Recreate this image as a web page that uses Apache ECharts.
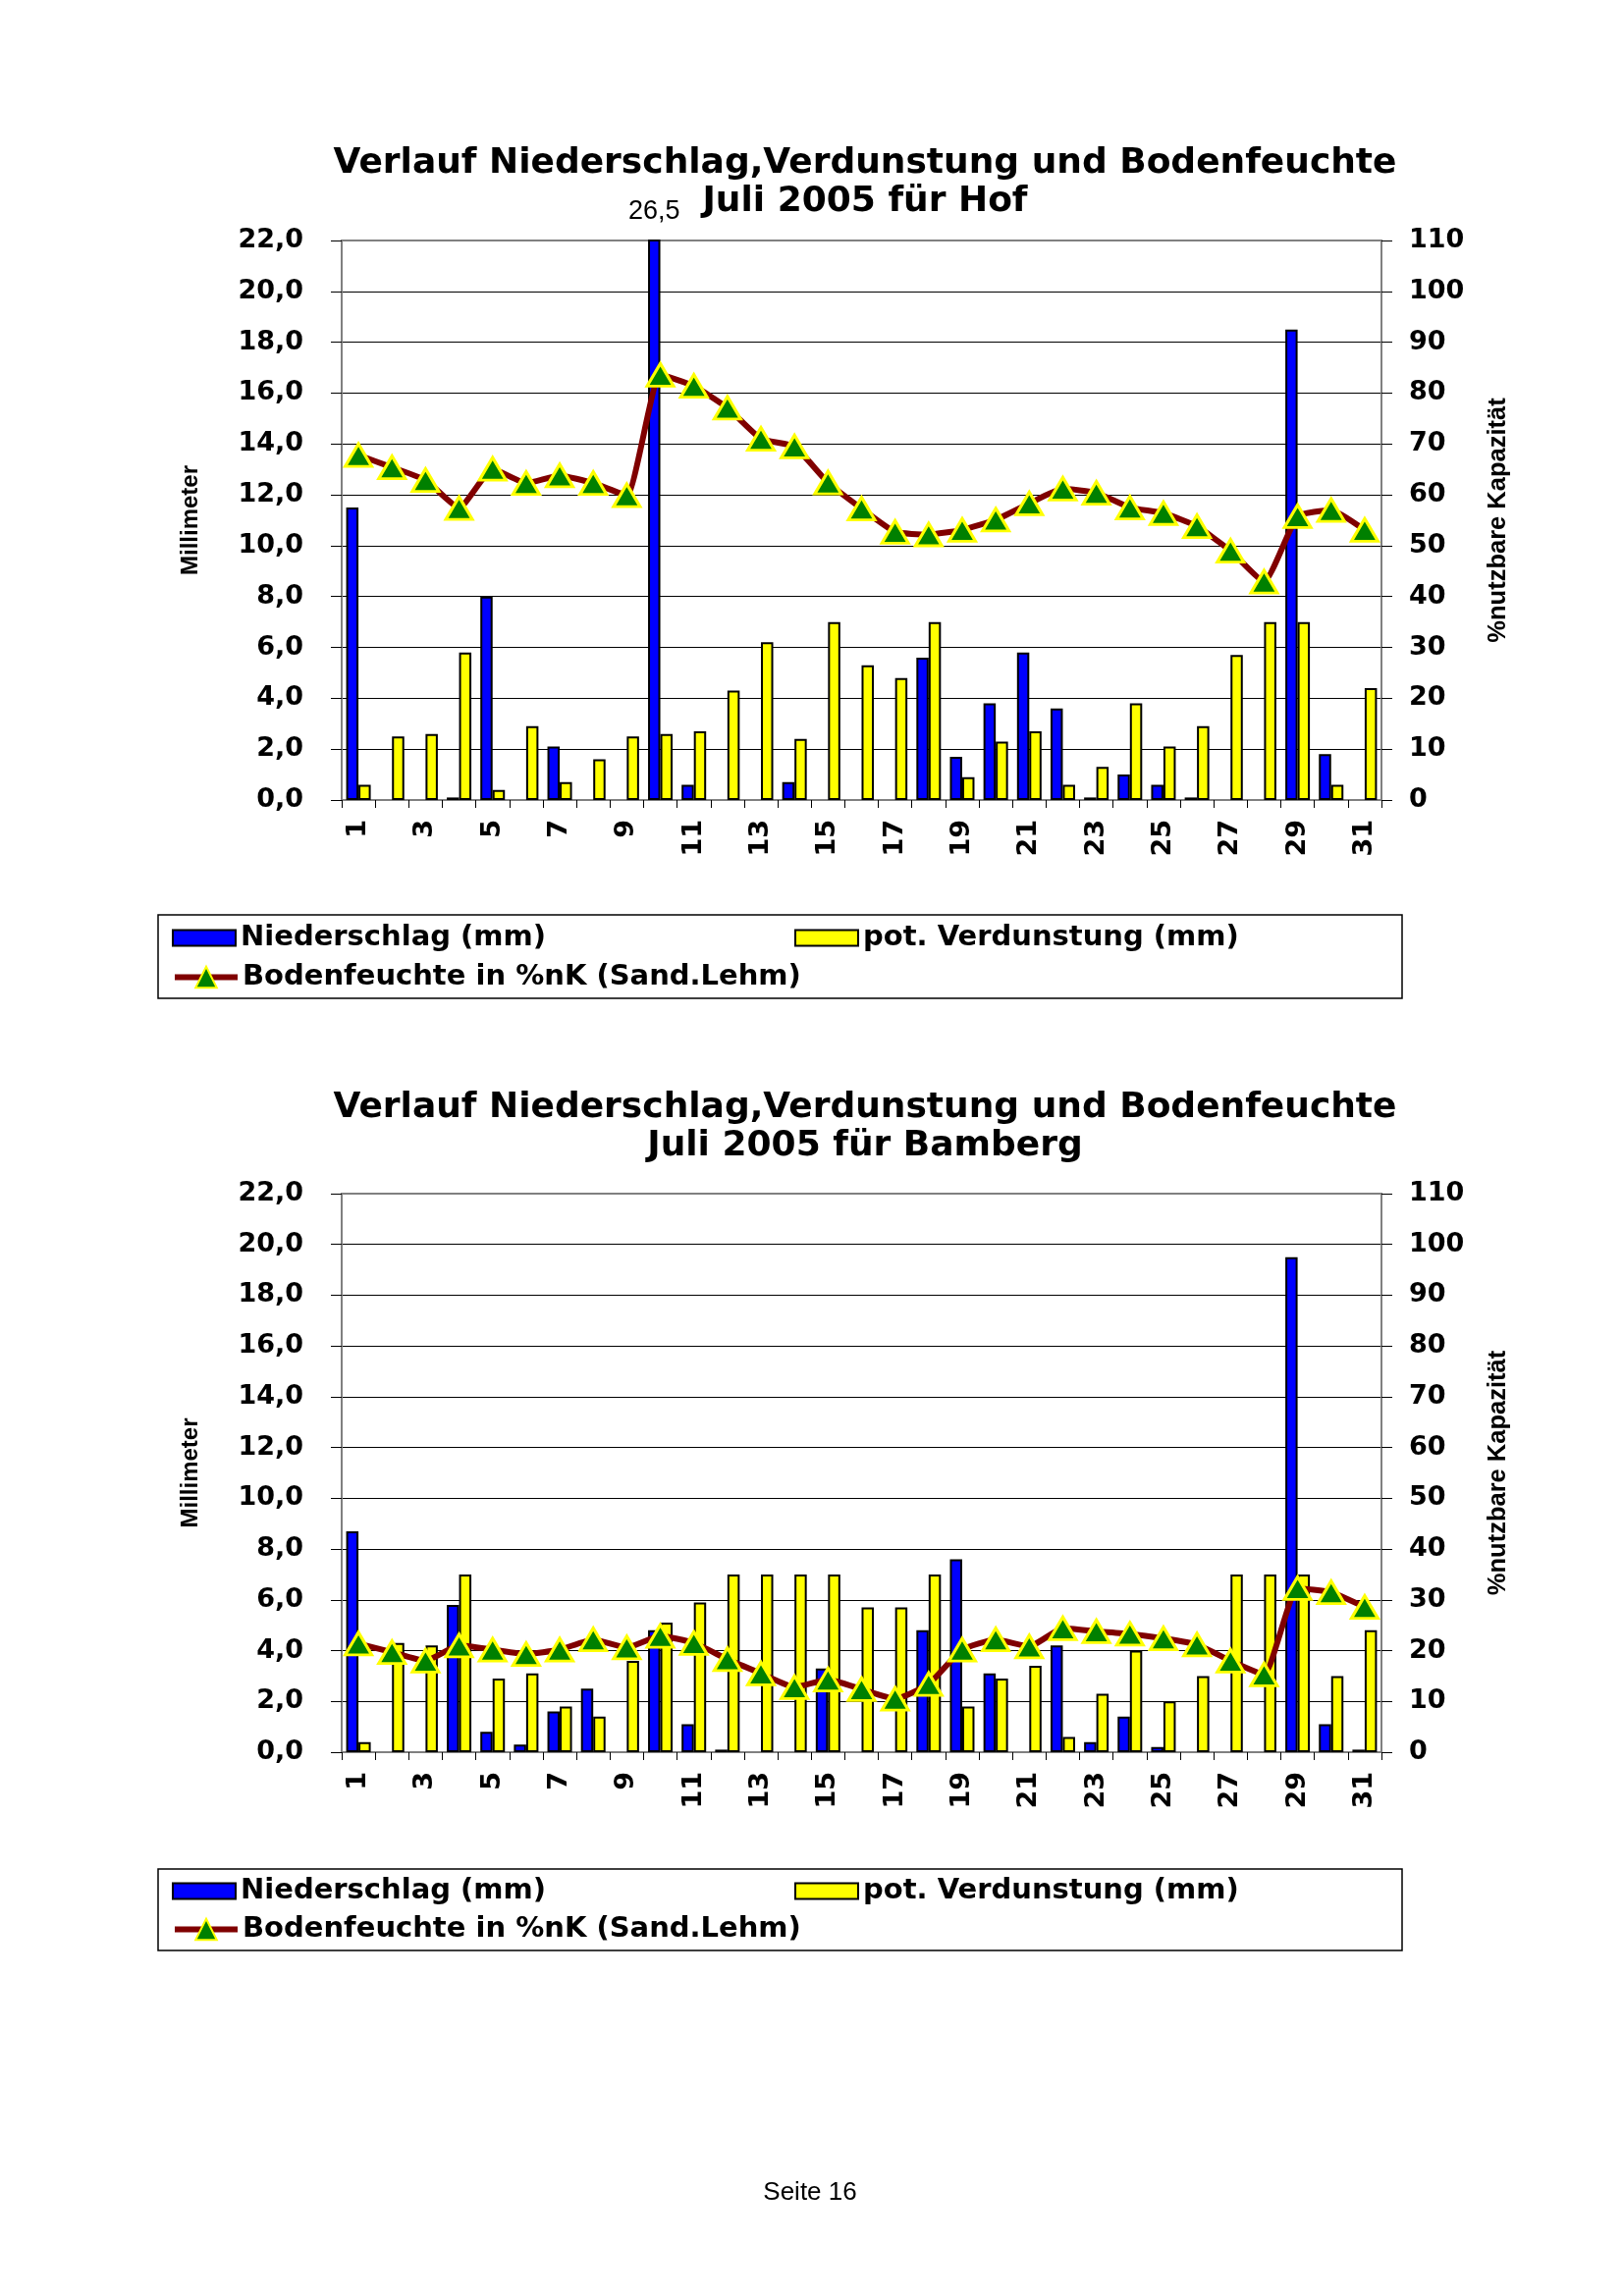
<!DOCTYPE html>
<html><head><meta charset="utf-8">
<script src="https://cdn.jsdelivr.net/npm/echarts@6/dist/echarts.min.js"></script>
<style>html,body{margin:0;padding:0;background:#fff}#c{width:1653px;height:2339px}</style>
</head><body><div id="c"></div>
<script>
const days = ['1','2','3','4','5','6','7','8','9','10','11','12','13','14','15','16','17','18','19','20','21','22','23','24','25','26','27','28','29','30','31'];

const hofNiederschlag = [11.5,0,0,0.1,8.0,0,2.1,0,0,26.5,0.6,0,0,0.7,0,0,0,5.6,1.7,3.8,5.8,3.6,0.1,1.0,0.6,0.1,0,0,18.5,1.8,0];
const hofVerdunstung = [0.6,2.5,2.6,5.8,0.4,2.9,0.7,1.6,2.5,2.6,2.7,4.3,6.2,2.4,7.0,5.3,4.8,7.0,0.9,2.3,2.7,0.6,1.3,3.8,2.1,2.9,5.7,7.0,7.0,0.6,4.4];
const hofBodenfeuchte = [67.8,65.4,62.9,57.4,65.1,62.3,63.8,62.3,59.9,83.6,81.4,77.1,71.0,69.5,62.4,57.3,52.7,52.2,53.1,55.1,58.3,61.2,60.4,57.5,56.4,53.8,49.0,42.9,55.8,57.0,53.1];

const bamNiederschlag = [8.7,0,0,5.8,0.8,0.3,1.6,2.5,0,4.8,1.1,0.1,0,0,3.3,0,0,4.8,7.6,3.1,0,4.2,0.4,1.4,0.2,0,0,0,19.5,1.1,0.1];
const bamVerdunstung = [0.4,4.3,4.2,7.0,2.9,3.1,1.8,1.4,3.6,5.1,5.9,7.0,7.0,7.0,7.0,5.7,5.7,7.0,1.8,2.9,3.4,0.6,2.3,4.0,2.0,3.0,7.0,7.0,7.0,3.0,4.8];
const bamBodenfeuchte = [21.4,19.7,18.0,21.0,20.2,19.3,20.2,22.2,20.6,22.9,21.5,18.3,15.5,12.8,14.3,12.4,10.5,13.4,20.2,22.2,20.8,24.4,23.8,23.3,22.4,21.2,18.0,15.3,32.3,31.5,28.6];

const mmAxis = {min: 0, max: 22, interval: 2};
const pctAxis = {min: 0, max: 110, interval: 10};

const titles = [
  'Verlauf Niederschlag,Verdunstung und Bodenfeuchte\nJuli 2005 für Hof',
  'Verlauf Niederschlag,Verdunstung und Bodenfeuchte\nJuli 2005 für Bamberg'
];
const seriesNames = ['Niederschlag (mm)', 'pot. Verdunstung (mm)', 'Bodenfeuchte in %nK (Sand.Lehm)'];
const leftAxisName = 'Millimeter';
const rightAxisName = '%nutzbare Kapazität';
const footer = 'Seite 16';

const BOLD = {fontFamily: 'DejaVu Sans', fontWeight: 'bold', color: '#000'};
const NARROW = {fontFamily: 'Liberation Sans, Arial', fontWeight: 'bold', color: '#000'};
const comma1 = v => v.toFixed(1).replace('.', ',');

const grids = [
  {left: 348, top: 245, width: 1059, height: 570},
  {left: 348, top: 1216, width: 1059, height: 569}
];

const xAxes = grids.map((g, i) => ({
  type: 'category', gridIndex: i, data: days, boundaryGap: true,
  axisLine: {lineStyle: {color: '#808080', width: 2}},
  axisTick: {show: true, interval: 0, length: 8, lineStyle: {color: '#000', width: 1}},
  axisLabel: {interval: 1, rotate: 90, margin: 20, fontSize: 27, ...BOLD}
}));

const yAxes = [];
grids.forEach((g, i) => {
  yAxes.push({
    type: 'value', gridIndex: i, position: 'left', ...mmAxis,
    name: leftAxisName, nameLocation: 'middle', nameRotate: 90, nameGap: 142,
    nameTextStyle: {fontSize: 24, ...NARROW},
    axisLine: {show: true, lineStyle: {color: '#808080', width: 2}},
    axisTick: {show: true, length: 11, lineStyle: {color: '#000'}},
    axisLabel: {margin: 39, fontSize: 27, ...BOLD, formatter: comma1},
    splitLine: {show: true, showMinLine: false, showMaxLine: false, lineStyle: {color: '#000', width: 1.2}}
  });
  yAxes.push({
    type: 'value', gridIndex: i, position: 'right', ...pctAxis,
    name: rightAxisName, nameLocation: 'middle', nameRotate: 90, nameGap: 106,
    nameTextStyle: {fontSize: 25.5, ...NARROW},
    axisLine: {show: true, lineStyle: {color: '#808080', width: 2}},
    axisTick: {show: true, length: 11, lineStyle: {color: '#000'}},
    axisLabel: {margin: 28, fontSize: 27, ...BOLD},
    splitLine: {show: false}
  });
});

function barData(arr) {
  return arr.map(v => {
    if (v === 0) return {value: v, itemStyle: {borderWidth: 0}};
    if (v > mmAxis.max) return {value: v, label: {show: true, position: 'top', distance: 15,
        fontFamily: 'Liberation Sans', fontSize: 27, color: '#000',
        formatter: p => String(p.value).replace('.', ',')}};
    return v;
  });
}

function seriesFor(i, rain, evap, soil) {
  return [
    {name: seriesNames[0], type: 'bar', xAxisIndex: i, yAxisIndex: 2 * i, data: barData(rain),
     barWidth: 12.5, barGap: '0%', clip: true,
     itemStyle: {color: '#0000FF', borderColor: '#000', borderWidth: 2}, z: 3},
    {name: seriesNames[1], type: 'bar', xAxisIndex: i, yAxisIndex: 2 * i, data: barData(evap),
     barWidth: 12.5, barGap: '0%',
     itemStyle: {color: '#FFFF00', borderColor: '#000', borderWidth: 2}, z: 3},
    {name: seriesNames[2], type: 'line', xAxisIndex: i, yAxisIndex: 2 * i + 1, data: soil,
     smooth: 0.15, symbol: 'triangle', symbolSize: [27, 23], showAllSymbol: true,
     lineStyle: {color: '#800000', width: 6},
     itemStyle: {color: '#008000', borderColor: '#FFFF00', borderWidth: 3}, z: 5}
  ];
}

const legendText = {fontSize: 29, ...BOLD};
const legends = [];
[[941, 981], [1912, 1951]].forEach(([t1, t2]) => {
  legends.push({data: [seriesNames[0], seriesNames[1]], left: 175, top: t1, itemGap: 253,
    itemWidth: 64, itemHeight: 16, icon: 'rect', selectedMode: false, textStyle: legendText, padding: 0});
  legends.push({data: [seriesNames[2]], left: 175, top: t2,
    itemWidth: 64, itemHeight: 27, selectedMode: false, textStyle: legendText, padding: 0,
    lineStyle: {width: 6, color: '#800000'}});
});

const option = {
  backgroundColor: '#fff',
  animation: false,
  title: [
    {text: titles[0], left: 881, top: 147, textAlign: 'center', padding: 0,
     textStyle: {fontSize: 36, lineHeight: 39, ...BOLD}},
    {text: titles[1], left: 881, top: 1109, textAlign: 'center', padding: 0,
     textStyle: {fontSize: 36, lineHeight: 39, ...BOLD}},
    {text: footer, left: 825, top: 2221, textAlign: 'center', padding: 0,
     textStyle: {fontFamily: 'Liberation Sans', fontWeight: 'normal', fontSize: 26, color: '#000'}}
  ],
  grid: grids.map(g => ({...g, show: true, borderColor: '#808080', borderWidth: 2, backgroundColor: 'transparent'})),
  xAxis: xAxes,
  yAxis: yAxes,
  legend: legends,
  graphic: [
    {type: 'rect', shape: {x: 161, y: 932, width: 1267, height: 85}, style: {fill: 'none', stroke: '#000', lineWidth: 1.5}},
    {type: 'rect', shape: {x: 161, y: 1904, width: 1267, height: 83}, style: {fill: 'none', stroke: '#000', lineWidth: 1.5}}
  ],
  series: [
    ...seriesFor(0, hofNiederschlag, hofVerdunstung, hofBodenfeuchte),
    ...seriesFor(1, bamNiederschlag, bamVerdunstung, bamBodenfeuchte)
  ]
};

const chart = echarts.init(document.getElementById('c'), null, {renderer: 'canvas'});
chart.setOption(option);
</script>
</body></html>
